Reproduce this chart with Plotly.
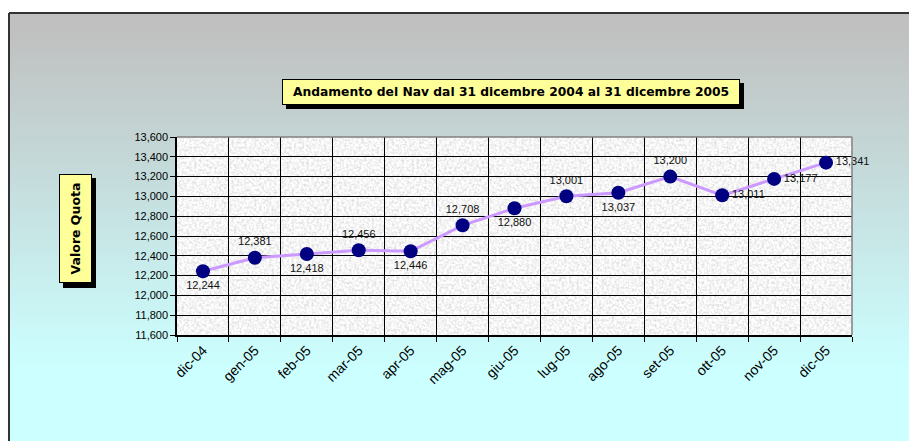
import base64
import plotly.graph_objects as go

# ---- data ----
categories = ["dic-04", "gen-05", "feb-05", "mar-05", "apr-05", "mag-05", "giu-05",
              "lug-05", "ago-05", "set-05", "ott-05", "nov-05", "dic-05"]
nav_values = [12.244, 12.381, 12.418, 12.456, 12.446, 12.708, 12.880,
              13.001, 13.037, 13.200, 13.011, 13.177, 13.341]
y_ticks = [11.6, 11.8, 12.0, 12.2, 12.4, 12.6, 12.8, 13.0, 13.2, 13.4, 13.6]
title_text = "Andamento del Nav dal 31 dicembre 2004 al 31 dicembre 2005"
y_title_text = "Valore Quota"

# label placement (style)
label_positions = ["bottom center", "top center", "bottom center", "top center",
                   "bottom center", "top center", "bottom center", "top center",
                   "bottom center", "top center", "middle right", "middle right",
                   "middle right"]

OFF = 8                      # page body margin
PAGE_W, PAGE_H = 917, 441
W, H = PAGE_W - OFF, PAGE_H - OFF
# plot area in page pixels
L, R, T, B = 177, 852, 137, 335
FONT = "Liberation Sans, Arial, sans-serif"
WIDE = "DejaVu Sans, Verdana, sans-serif"


def px_x(p):
    return (p - L) / (R - L)


def px_y(p):
    return (B - p) / (B - T)


def svg_uri(svg):
    return "data:image/svg+xml;base64," + base64.b64encode(svg.encode()).decode()


gradient_svg = (
    '<svg xmlns="http://www.w3.org/2000/svg" width="100" height="100" '
    'viewBox="0 0 100 100" preserveAspectRatio="none">'
    '<defs><linearGradient id="g" x1="0" y1="0" x2="0" y2="1">'
    '<stop offset="0.04" stop-color="#C0C0C0"/>'
    '<stop offset="0.82" stop-color="#CCFFFF"/>'
    '</linearGradient></defs>'
    '<rect width="100" height="100" fill="url(#g)"/></svg>'
)

pw, ph = R - L, B - T
texture_svg = (
    f'<svg xmlns="http://www.w3.org/2000/svg" width="{pw}" height="{ph}" '
    f'viewBox="0 0 {pw} {ph}">'
    '<filter id="n" x="0" y="0" width="100%" height="100%" color-interpolation-filters="sRGB">'
    '<feTurbulence type="fractalNoise" baseFrequency="0.4" numOctaves="3" seed="3"/>'
    '<feColorMatrix type="matrix" values="0.28 0 0 0 0.82  0.28 0 0 0 0.82  0.28 0 0 0 0.82  0 0 0 0 1"/>'
    '</filter>'
    f'<rect width="{pw}" height="{ph}" filter="url(#n)"/></svg>'
)

fig = go.Figure()

fig.add_trace(go.Scatter(
    x=categories,
    y=nav_values,
    mode="lines+markers+text",
    line=dict(color="#CC99FF", width=3),
    marker=dict(color="#000080", size=14),
    texttemplate="%{y:.3f}",
    textposition=label_positions,
    textfont=dict(family=FONT, size=11, color="#111111"),
    cliponaxis=False,
    hoverinfo="skip",
))

shapes = [
    # outer frame (top / left)
    dict(type="line", xref="paper", yref="paper", x0=px_x(9), x1=px_x(PAGE_W + 5),
         y0=px_y(13), y1=px_y(13), line=dict(color="#333333", width=2)),
    dict(type="line", xref="paper", yref="paper", x0=px_x(9), x1=px_x(9),
         y0=px_y(13), y1=px_y(PAGE_H + 5), line=dict(color="#333333", width=2)),
    # plot area border (top / right)
    dict(type="line", xref="paper", yref="paper", x0=0, x1=1, y0=1, y1=1,
         line=dict(color="#808080", width=1.5)),
    dict(type="line", xref="paper", yref="paper", x0=1, x1=1, y0=0, y1=1,
         line=dict(color="#808080", width=1.5)),
    # title shadow
    dict(type="rect", xref="paper", yref="paper", x0=px_x(286), x1=px_x(744),
         y0=px_y(109), y1=px_y(83), fillcolor="black", line=dict(width=0)),
    # y title shadow
    dict(type="rect", xref="paper", yref="paper", x0=px_x(63), x1=px_x(96),
         y0=px_y(288), y1=px_y(178), fillcolor="black", line=dict(width=0)),
]

annotations = [
    dict(text=f"<b>{title_text}</b>", xref="paper", yref="paper",
         x=px_x(511), y=px_y(92), xanchor="center", yanchor="middle",
         showarrow=False, width=452, height=20, borderpad=2, borderwidth=1,
         bordercolor="black", bgcolor="#FFFF99",
         font=dict(family=WIDE, size=12.3, color="black")),
    dict(text=f"<b>{y_title_text}</b>", xref="paper", yref="paper",
         x=px_x(75.5), y=px_y(228.5), xanchor="center", yanchor="middle",
         showarrow=False, textangle=-90, width=103, height=27, borderpad=2,
         borderwidth=1, bordercolor="black", bgcolor="#FFFF99",
         font=dict(family=WIDE, size=12.5, color="black")),
]

images = [
    dict(source=svg_uri(gradient_svg), xref="paper", yref="paper",
         x=px_x(9), y=px_y(13), sizex=px_x(PAGE_W + 5) - px_x(9),
         sizey=px_y(13) - px_y(PAGE_H + 5),
         xanchor="left", yanchor="top", sizing="stretch", layer="below"),
    dict(source=svg_uri(texture_svg), xref="paper", yref="paper",
         x=0, y=1, sizex=1, sizey=1, xanchor="left", yanchor="top",
         sizing="stretch", layer="below"),
]

fig.update_layout(
    width=W, height=H,
    margin=dict(l=L - OFF, r=PAGE_W - R, t=T - OFF, b=PAGE_H - B, pad=0),
    paper_bgcolor="white",
    plot_bgcolor="rgba(0,0,0,0)",
    separators=",.",
    showlegend=False,
    shapes=shapes,
    annotations=annotations,
    images=images,
    font=dict(family=FONT, color="black"),
    xaxis=dict(
        type="category",
        range=[-0.5, len(categories) - 0.5],
        tickson="boundaries",
        ticks="outside", ticklen=5, tickcolor="black", tickwidth=1,
        showgrid=True, gridcolor="black", gridwidth=1,
        showline=True, linecolor="black", linewidth=1.5,
        tickangle=-45,
        tickfont=dict(family=FONT, size=14, color="black"),
        zeroline=False, fixedrange=True,
    ),
    yaxis=dict(
        range=[y_ticks[0], y_ticks[-1]],
        tickvals=y_ticks,
        tickformat=".3f",
        ticks="outside", ticklen=5, tickcolor="black", tickwidth=1,
        showgrid=True, gridcolor="black", gridwidth=1,
        showline=True, linecolor="black", linewidth=1.5,
        tickfont=dict(family=FONT, size=11, color="black"),
        zeroline=False, fixedrange=True,
    ),
)

fig.write_html("out.html", config={"displayModeBar": False})
